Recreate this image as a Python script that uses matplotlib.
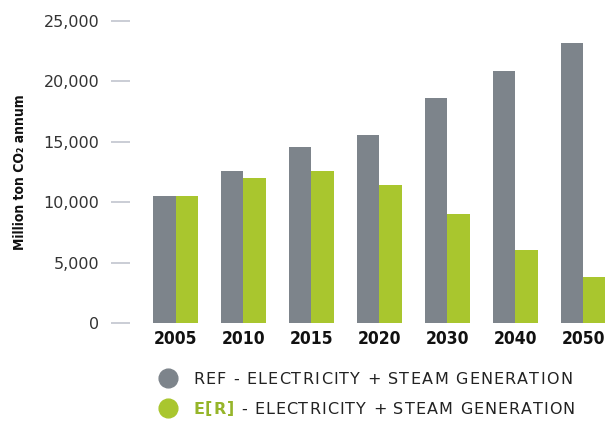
import matplotlib
matplotlib.use('Agg')
import matplotlib.pyplot as plt
import numpy as np

years = ['2005', '2010', '2015', '2020', '2030', '2040', '2050']
ref_values = [10500, 12600, 14550, 15550, 18600, 20850, 23150]
er_values = [10500, 12000, 12600, 11400, 9000, 6050, 3800]
y_ticks = [0, 5000, 10000, 15000, 20000, 25000]
y_label = 'Million ton CO\u2082 annum'
legend_ref = 'REF - ELECTRICITY + STEAM GENERATION'
legend_er_bold = 'E[R]'
legend_er_rest = ' - ELECTRICITY + STEAM GENERATION'

GRAY = '#7d848b'
GREEN = '#a9c62e'
GREEN_TXT = '#96b52a'

W, H = 605, 421
fig = plt.figure(figsize=(W / 100, H / 100), dpi=100)
ax = fig.add_axes([130 / W, (H - 323) / H, (W - 130) / W, (323 - 21) / H])

x = np.arange(len(years))
bw = 0.333
ax.bar(x - bw / 2, ref_values, bw, color=GRAY, linewidth=0)
ax.bar(x + bw / 2, er_values, bw, color=GREEN, linewidth=0)
ax.set_xlim(-0.67, 6.32)
ax.set_ylim(0, 25000)
for s in ax.spines.values():
    s.set_visible(False)

ax.set_yticks(y_ticks)
ax.set_yticklabels([f'{v:,}' for v in y_ticks])
ax.tick_params(axis='y', length=13.5, width=1.3, color='#c6c9d2', pad=8.5,
               labelsize=11.5, labelcolor='#333333')
ax.set_xticks(x)
ax.set_xticklabels(years)
ax.tick_params(axis='x', length=0, pad=5)
for lab in ax.get_xticklabels():
    lab.set_fontfamily(['DejaVu Sans'])
    lab.set_fontstretch('condensed')
    lab.set_fontweight('bold')
    lab.set_fontsize(12.5)
    lab.set_color('#111111')

fig.text(20 / W, (H - 172) / H, y_label, rotation=90, ha='center', va='center',
         family=['DejaVu Sans'], fontstretch='condensed', fontweight='bold',
         fontsize=10, color='#111111')

# legend markers
fig.add_artist(plt.Line2D([168 / W], [(H - 378) / H], marker='o', markersize=13.5,
                          color=GRAY, linestyle='none', transform=fig.transFigure))
fig.add_artist(plt.Line2D([168 / W], [(H - 408) / H], marker='o', markersize=13.5,
                          color=GREEN, linestyle='none', transform=fig.transFigure))

renderer = fig.canvas.get_renderer()


def tracked_text(x0_px, yc_px, pieces, target_end_px, fontsize):
    # pieces: list of (text, weight, color)
    chars = []
    for txt, wt, col in pieces:
        for ch in txt:
            chars.append((ch, wt, col))
    widths = []
    objs = []
    for ch, wt, col in chars:
        t = fig.text(0, 0, ch if ch != ' ' else '\u00a0', fontsize=fontsize,
                     fontweight=wt, color=col, family='DejaVu Sans',
                     ha='left', va='center')
        if ch == ' ':
            tmp = fig.text(0, 0, 'a a', fontsize=fontsize, family='DejaVu Sans')
            tmp2 = fig.text(0, 0, 'aa', fontsize=fontsize, family='DejaVu Sans')
            w = tmp.get_window_extent(renderer).width - tmp2.get_window_extent(renderer).width
            tmp.remove(); tmp2.remove()
        else:
            w = t.get_window_extent(renderer).width
        widths.append(w)
        objs.append(t)
    total = sum(widths)
    n = len(chars)
    track = (target_end_px - x0_px - total) / (n - 1)
    xp = x0_px
    for t, w in zip(objs, widths):
        t.set_position((xp / W, (H - yc_px) / H))
        xp += w + track


tracked_text(193, 379, [(legend_ref, 'normal', '#222222')], 572, 11.5)
tracked_text(193, 409, [(legend_er_bold, 'bold', GREEN_TXT),
                        (legend_er_rest, 'normal', '#222222')], 575, 11.5)

fig.savefig('out.png', dpi=100)
